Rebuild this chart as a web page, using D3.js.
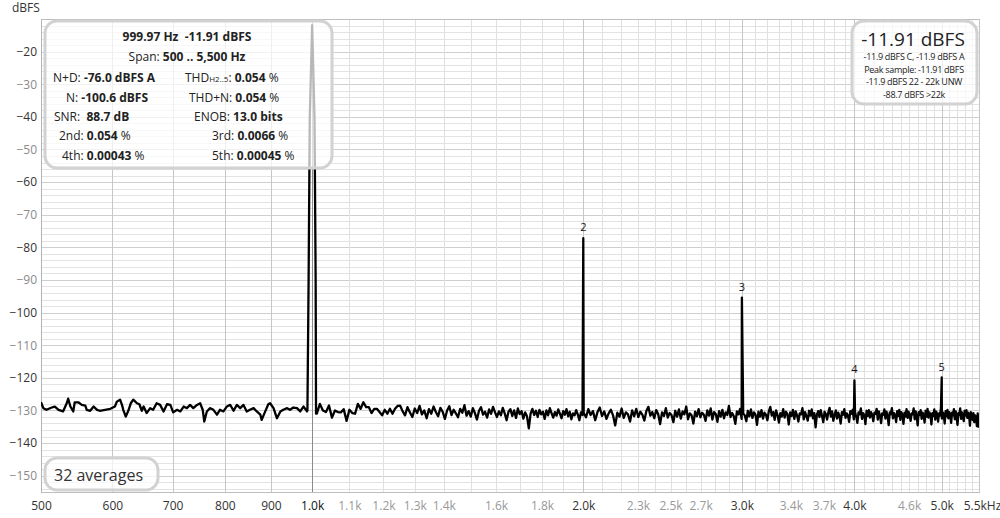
<!DOCTYPE html>
<html><head><meta charset="utf-8">
<script src="https://cdn.jsdelivr.net/npm/d3@7"></script>
<style>
body{margin:0;background:#fff;}
svg{display:block;font-family:"Open Sans",sans-serif;}
svg text{white-space:pre;}
</style></head><body>
<svg id="chart" width="1000" height="518"></svg>
<script>
// ---------- DATA ----------
// noise floor below the fundamental (read point by point)
const lowFreq = [500,503,507,514,518,523,529,534,536,539,543,545,550,555,560,562,567,572,577,581,589,597,604,607,612,615,617,621,625,629,633,639,643,647,650,655,661,666,672,678,684,690,696,701,708,714,720,726,732,738,745,751,756,759,764,770,777,784,790,797,804,811,818,825,832,839,846,853,861,868,876,879,887,894,898,906,914,922,929,938,945,953,962,970,978,987];
const lowDb = [-127.5,-129.3,-129.8,-129.1,-128.8,-129.8,-130.3,-127.8,-126.4,-128.8,-130.3,-127.5,-127.5,-128.3,-128.5,-129.8,-130.1,-128.8,-129.8,-130.1,-129.8,-129.5,-128.8,-127.3,-126.7,-128.3,-129.8,-131.9,-130.1,-127.8,-126.7,-127.8,-128.1,-130.1,-128.8,-130.8,-129.3,-129.8,-127.8,-128.3,-130.3,-128.1,-128.3,-130.6,-129.8,-130.3,-128.8,-129.3,-128.3,-129.3,-128.3,-127.8,-129.8,-133.4,-130.3,-129.3,-129.8,-131.3,-129.8,-130.3,-128.8,-128.3,-130.1,-128.3,-129.3,-128.3,-130.3,-129.8,-129.3,-130.3,-131.3,-132.9,-130.3,-128.1,-127.8,-129.3,-132.4,-130.3,-129.8,-129.3,-129.8,-129.1,-129.3,-130.3,-128.8,-130.3];
// fundamental (1 kHz) skirt
const fundFreq = [988,991,993,994,1000,1006,1007,1009,1010];
const fundDb = [-130.0,-90.0,-56.0,-40.0,-11.91,-40.0,-56.0,-90.0,-131.0];
// FFT bins 1012 .. 1996 Hz, 8 Hz apart
const midStart = 1012, midStep = 8;
const midDb = [-131.0,-128.0,-130.0,-130.5,-128.5,-132.2,-130.0,-130.5,-130.6,-129.6,-133.2,-129.8,-130.8,-131.0,-128.0,-129.5,-127.5,-129.0,-129.0,-130.8,-129.5,-129.5,-130.5,-131.5,-129.8,-131.0,-129.5,-131.0,-129.5,-128.6,-128.5,
-130.2,-131.5,-129.0,-130.6,-132.0,-129.4,-130.8,-128.6,-131.2,-130.0,-132.4,-129.6,-131.0,-128.8,-130.5,-131.8,-129.2,-130.4,-132.6,-130.0,-128.7,-131.4,-129.8,-130.9,-132.1,-129.5,-130.7,-128.4,-131.6,-130.2,-131.9,-129.3,-130.8,-132.8,-130.1,-129.0,-131.3,-130.4,-132.2,-129.7,-131.0,-128.9,-130.6,-132.0,-130.3,-131.5,-129.2,-130.9,-133.0,-130.4,-129.6,-131.7,-130.0,-132.3,-129.4,-131.1,-130.2,-132.5,-130.6,-131.8,-135.5,-131.0,-129.5,-131.4,-130.1,-132.0,-129.8,-131.2,-130.4,-132.6,-130.0,-131.5,-129.3,-130.8,-132.2,-130.5,-131.6,-129.7,-131.0,-132.4,-130.2,-131.3,-129.6,-131.8,-130.4,-132.7,-130.9,-131.5,-129.9,-131.2,-133.0,-130.6,-131.4];
// FFT bins 2002 .. 5494 Hz, 12 Hz apart
const highStart = 2002, highStep = 12;
const highDb = [
-130.8,-132.1,-129.6,-131.4,-130.2,-133.0,-130.5,-129.1,-131.7,-130.3,-132.6,-130.9,
-129.8,-131.5,-134.6,-130.7,-131.9,-129.4,-132.3,-130.6,-131.2,-133.4,-130.0,-131.8,
-129.5,-132.0,-130.4,-131.3,-133.1,-130.2,-128.9,-131.6,-130.5,-132.4,-129.9,-131.1,
-134.2,-130.6,-131.7,-129.3,-132.2,-130.8,-131.4,-133.6,-130.1,-131.9,-129.7,-132.5,
-130.3,-131.2,-128.8,-132.7,-130.9,-131.5,-134.0,-130.4,-131.8,-129.6,-132.1,-130.7,
-131.3,-133.2,-130.0,-131.6,-129.4,-132.8,-130.5,-131.1,-133.5,-130.2,-131.9,-129.8,
-132.4,-130.6,-131.4,-128.6,-132.0,-130.8,-131.7,-134.1,-130.3,-131.2,-129.5,-132.6,
-130.9,-131.5,-133.3,-130.1,-131.8,-129.7,-132.3,-130.6,-131.2,-134.4,-130.4,-131.9,
-129.9,-132.5,-130.7,-131.3,-133.0,-130.2,-128.9,-131.6,-130.5,-132.9,-130.0,-131.4,
-133.7,-130.8,-131.9,-129.6,-132.2,-130.4,-131.1,-134.3,-130.6,-131.7,-129.8,-132.6,
-130.3,-131.5,-133.4,-130.9,-131.2,-129.3,-132.7,-130.5,-131.8,-133.1,-130.1,-131.6,
-129.7,-132.4,-130.8,-135.2,-131.3,-130.2,-132.0,-129.9,-131.7,-133.6,-130.4,-131.1,
-132.8,-130.6,-129.2,-131.9,-130.3,-133.2,-131.4,-130.0,-132.5,-130.7,-131.8,-134.0,
-130.5,-131.3,-129.6,-132.3,-130.9,-131.6,-133.5,-130.2,-131.0,-129.8,-132.7,-130.4,
-131.9,-133.8,-130.6,-131.2,-129.4,-132.6,-130.8,-131.5,-134.2,-130.1,-131.7,-129.9,
-132.2,-130.5,-131.4,-133.3,-130.7,-131.0,-129.5,-132.8,-130.3,-131.6,-133.9,-130.9,
-131.3,-129.7,-132.5,-130.4,-131.8,-134.5,-130.6,-131.1,-129.3,-132.4,-130.8,-131.5,
-133.6,-130.2,-131.7,-129.8,-132.9,-130.5,-131.3,-134.1,-130.7,-131.9,-129.6,-132.3,
-130.4,-131.6,-133.2,-130.9,-131.2,-129.4,-132.7,-130.3,-131.8,-134.6,-130.5,-131.4,
-129.9,-132.6,-130.7,-131.5,-133.7,-130.1,-131.9,-129.5,-132.2,-130.6,-131.3,-134.3,
-130.8,-131.7,-129.7,-132.8,-130.4,-131.1,-133.4,-130.9,-131.6,-129.3,-132.5,-130.6,
-131.4,-134.0,-130.2,-131.8,-129.8,-132.4,-130.5,-131.2,-133.8,-130.7,-131.5,-129.6,
-132.7,-130.3,-131.9,-134.4,-130.8,-131.3,-129.4,-132.6,-130.6,-131.7,-133.3,-130.1,
-131.6,-129.9,-132.3,-130.7,-131.4,-134.7,-130.5,-131.2,-132.9,-130.8,-133.6,-131.5,
-132.2,-134.8,-130.9,-135.3];
// harmonics
const harmFreq = [2000, 3000, 4000, 5000];
const harmDb = [-77.2, -95.4, -120.8, -119.9];
const harmLabels = ["2", "3", "4", "5"];
// axes
const xDomain = [500, 5500];
const yDomain = [-155, -10];
const xGridValues = d3.range(500, 5501, 100);
const xTickValues = [500,600,700,800,900,1000,1100,1200,1300,1400,1600,1800,2000,2300,2500,2700,3000,3400,3700,4000,4600,5000,5500];
const xTickLabels = ["500","600","700","800","900","1.0k","1.1k","1.2k","1.3k","1.4k","1.6k","1.8k","2.0k","2.3k","2.5k","2.7k","3.0k","3.4k","3.7k","4.0k","4.6k","5.0k","5.5kHz"];
const xMajorValues = [600,700,800,900,2000,3000,4000,5000];
const xStrongLabels = [500,600,700,800,900,1000,2000,3000,4000,5000,5500];
const yTickValues = [-150,-140,-130,-120,-110,-100,-90,-80,-70,-60,-50,-40,-30,-20];
const yGridValues = d3.range(-154, -10, 2);
// text
const yAxisTitle = "dBFS";
const infoHeader = ["999.97 Hz  -11.91 dBFS"];
const spanLabel = "Span: ", spanValue = "500 .. 5,500 Hz";
const infoLeftLabels = ["N+D: ", "N: ", "SNR:  ", "2nd: ", "4th: "];
const infoLeftValues = ["-76.0 dBFS A", "-100.6 dBFS", "88.7 dB", "0.054", "0.00043"];
const infoLeftUnits = ["", "", "", " %", " %"];
const infoRightLabels = ["THD", "THD+N: ", "ENOB: ", "3rd: ", "5th: "];
const infoRightValues = ["0.054", "0.054", "13.0 bits", "0.0066", "0.00045"];
const infoRightUnits = [" %", " %", "", " %", " %"];
const levelMain = "-11.91 dBFS";
const levelLines = ["-11.9 dBFS C, -11.9 dBFS A", "Peak sample: -11.91 dBFS", "-11.9 dBFS 22 - 22k UNW", "-88.7 dBFS >22k"];
const averagesText = "32 averages";

// ---------- LAYOUT ----------
const plot = {left: 41, right: 979, top: 19, bottom: 492};
const svg = d3.select("#chart");
const x = d3.scaleLog().domain(xDomain).range([plot.left, plot.right]);
const y = d3.scaleLinear().domain(yDomain).range([plot.bottom, plot.top]);

// grid
const grid = svg.append("g");
grid.selectAll("line.hg").data(yGridValues).join("line")
  .attr("x1", plot.left).attr("x2", plot.right)
  .attr("y1", d => Math.round(y(d)) + 0.5).attr("y2", d => Math.round(y(d)) + 0.5)
  .attr("stroke", d => d % 10 === 0 ? "#cfcfcf" : "#e3e3e3").attr("stroke-width", 1);
grid.selectAll("line.vg").data(xGridValues).join("line")
  .attr("x1", d => Math.round(x(d)) + 0.5).attr("x2", d => Math.round(x(d)) + 0.5)
  .attr("y1", plot.top).attr("y2", plot.bottom)
  .attr("stroke", d => d === 1000 ? "#8a8a8a" : (xMajorValues.includes(d) || d === 5500 ? "#c6c6c6" : "#e0e0e0"))
  .attr("stroke-width", 1);
// frame
svg.append("line").attr("x1", plot.left + 0.5).attr("x2", plot.left + 0.5).attr("y1", plot.top).attr("y2", plot.bottom + 1).attr("stroke", "#b4b4b4");
svg.append("line").attr("x1", plot.left).attr("x2", plot.right + 1).attr("y1", plot.top + 0.5).attr("y2", plot.top + 0.5).attr("stroke", "#bdbdbd");
svg.append("line").attr("x1", plot.left).attr("x2", plot.right + 1).attr("y1", plot.bottom + 0.5).attr("y2", plot.bottom + 0.5).attr("stroke", "#bdbdbd");

// axes labels
const yAx = svg.append("g").attr("transform", `translate(${plot.left - 3},0)`)
  .call(d3.axisLeft(y).tickValues(yTickValues).tickSize(0).tickPadding(1));
yAx.select(".domain").remove();
yAx.selectAll("text").attr("font-family", '"Open Sans",sans-serif').attr("font-size", 12)
  .attr("fill", d => d % 20 === 0 ? "#333" : "#8a8a8a");
const xAx = svg.append("g").attr("transform", `translate(0,${plot.bottom})`)
  .call(d3.axisBottom(x).tickValues(xTickValues).tickSize(0).tickPadding(9)
    .tickFormat((d, i) => xTickLabels[i]));
xAx.select(".domain").remove();
xAx.selectAll("text").attr("font-family", '"Open Sans",sans-serif').attr("font-size", 12)
  .attr("fill", d => d === 1000 ? "#111" : (xStrongLabels.includes(d) ? "#333" : "#999"))
  .attr("dx", d => d === 5500 ? 3 : 0);
svg.append("text").attr("x", 12).attr("y", 12).attr("font-size", 12).attr("fill", "#333").text(yAxisTitle);

// trace
const pts = [];
lowFreq.forEach((f, i) => pts.push({f, db: lowDb[i]}));
fundFreq.forEach((f, i) => pts.push({f, db: fundDb[i]}));
midDb.forEach((v, i) => pts.push({f: midStart + midStep * i, db: v}));
highDb.forEach((v, i) => pts.push({f: highStart + highStep * i, db: v}));
harmFreq.forEach((f, i) => pts.push({f, db: harmDb[i]}));
pts.sort((a, b) => a.f - b.f);
svg.append("clipPath").attr("id", "pc").append("rect")
  .attr("x", plot.left).attr("y", plot.top).attr("width", plot.right - plot.left).attr("height", plot.bottom - plot.top);
const line = d3.line().x(d => x(d.f)).y(d => y(d.db));
svg.append("path").datum(pts).attr("clip-path", "url(#pc)")
  .attr("d", line).attr("fill", "none").attr("stroke", "#000").attr("stroke-width", 2.3)
  .attr("stroke-linejoin", "round");
// harmonic labels
svg.selectAll("text.hl").data(harmFreq).join("text")
  .attr("x", d => x(d)).attr("y", (d, i) => y(harmDb[i]) - 7)
  .attr("text-anchor", "middle").attr("font-size", 11).attr("fill", "#111")
  .text((d, i) => harmLabels[i]);

// boxes
function box(x0, y0, w, h) {
  svg.append("rect").attr("x", x0).attr("y", y0).attr("width", w).attr("height", h)
    .attr("rx", 12).attr("ry", 12).attr("fill", "#fff").attr("fill-opacity", 0.72)
    .attr("stroke", "#d2d2d2").attr("stroke-width", 3);
}
// info box
box(45, 21, 287, 147);
const info = svg.append("g").attr("font-size", 12).attr("fill", "#222");
info.append("text").attr("x", 187).attr("y", 41).attr("text-anchor", "middle").attr("font-weight", "bold").text(infoHeader[0]);
const sp = info.append("text").attr("x", 187).attr("y", 61).attr("text-anchor", "middle");
sp.append("tspan").text(spanLabel);
sp.append("tspan").attr("font-weight", "bold").text(spanValue);
const rowY = [82, 101.5, 121, 140, 159.5];
const leftX = [53, 66, 54, 59, 62];
const rightX = [185, 189, 194, 212, 212];
rowY.forEach((ry, i) => {
  const t = info.append("text").attr("x", leftX[i]).attr("y", ry);
  t.append("tspan").text(infoLeftLabels[i]);
  t.append("tspan").attr("font-weight", "bold").text(infoLeftValues[i]);
  if (infoLeftUnits[i]) t.append("tspan").text(infoLeftUnits[i]);
  const r = info.append("text").attr("x", rightX[i]).attr("y", ry);
  r.append("tspan").text(infoRightLabels[i]);
  if (i === 0) {
    r.append("tspan").attr("font-size", 8).text("H2..5");
    r.append("tspan").text(": ");
  }
  r.append("tspan").attr("font-weight", "bold").text(infoRightValues[i]);
  if (infoRightUnits[i]) r.append("tspan").text(infoRightUnits[i]);
});
// level box
box(852, 21, 125, 83);
svg.append("text").attr("x", 913).attr("y", 46).attr("text-anchor", "middle").attr("font-size", 19).attr("fill", "#222").text(levelMain);
svg.selectAll("text.ll").data(levelLines).join("text")
  .attr("x", 914).attr("y", (d, i) => 60 + i * 12.5).attr("text-anchor", "middle")
  .attr("font-size", 9).attr("fill", "#222").attr("letter-spacing", -0.3).text(d => d);
// averages box
box(45, 458, 113, 32);
svg.append("text").attr("x", 54).attr("y", 481).attr("font-size", 16).attr("fill", "#333").text(averagesText);
</script>
</body></html>
